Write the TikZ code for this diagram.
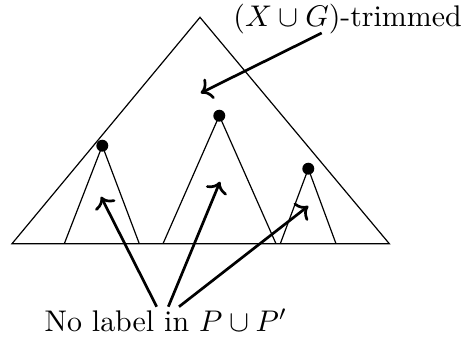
\documentclass[tikz,border=0pt]{standalone}
\usepackage{amsmath,amssymb}
\usetikzlibrary{arrows.meta,positioning,calc}
\tikzset{
  tree/.style={draw=black,line width=0.4pt},
  root/.style={circle,fill=black,inner sep=0pt,minimum size=4pt},
  pointer/.style={->,draw=black,line width=0.9pt},
  caption/.style={font=\normalsize,inner sep=0pt,anchor=base}
}
\begin{document}
\begin{tikzpicture}[x=0.01176cm,y=-0.01176cm]
  \useasboundingbox (0,0) rectangle (463,338);
  % outer tree
  \coordinate (top) at (200,17.3);
  \coordinate (bl) at (12,243.7);
  \coordinate (br) at (389.3,243.7);
  \draw[tree] (bl) -- (top) -- (br) -- cycle;
  % subtrees
  \node[root] (r1) at (102.3,145.7) {};
  \node[root] (r2) at (219.3,115.7) {};
  \node[root] (r3) at (308.3,168.7) {};
  \draw[tree] (64.3,243.7) -- (r1.center) -- (139.3,243.7);
  \draw[tree] (163,243.7) -- (r2.center) -- (276,243.7);
  \draw[tree] (280.3,243.7) -- (r3.center) -- (336,243.7);
  % labels
  \node[caption] (trim) at (347.5,26) {$(X\cup G)$-trimmed};
  \node[caption] (nolab) at (166,331) {No label in $P\cup P'$};
  \coordinate (t0) at (200.7,93);
  \coordinate (t1) at (101,196.7);
  \coordinate (t2) at (220,181.7);
  \coordinate (t3) at (308.3,206);
  \draw[pointer] (321.7,33) -- (t0);
  \draw[pointer] (156.7,306.7) -- (t1);
  \draw[pointer] (168.3,306.7) -- (t2);
  \draw[pointer] (179,306.7) -- (t3);
\end{tikzpicture}
\end{document}
